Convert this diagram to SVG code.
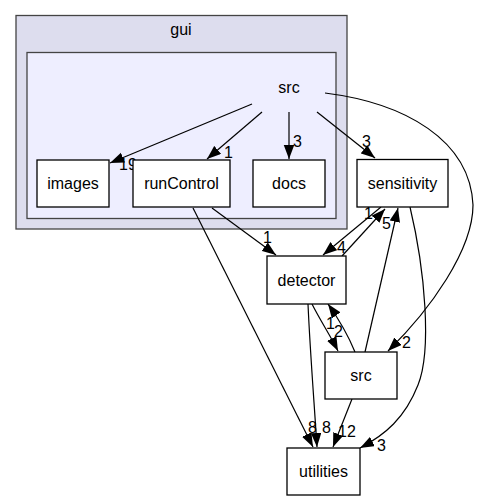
<svg xmlns="http://www.w3.org/2000/svg" width="479" height="501" viewBox="0 0 479 501">
<style>
text{font-family:"Liberation Sans",Arial,sans-serif;font-size:16px;fill:#000}
.n{text-anchor:middle}
.box{fill:#fff;stroke:#000;stroke-width:1.3}
.e{fill:none;stroke:#000;stroke-width:1.2;marker-end:url(#ah)}
</style>
<defs>
<marker id="ah" markerUnits="userSpaceOnUse" markerWidth="15" markerHeight="11" refX="14" refY="5.25" orient="auto">
<path d="M0,0 L14,5.25 L0,10.5 z" fill="#000"/>
</marker>
</defs>
<g id="cluster-gui">
<rect x="16" y="15.5" width="331" height="213.5" fill="#ddddee" stroke="#444" stroke-width="1.3"/>
<text class="n" x="181" y="35">gui</text>
</g>
<g id="cluster-gui-src">
<rect x="27" y="52.5" width="309" height="166" fill="#eeeeff" stroke="#444" stroke-width="1.3"/>
<text class="n" x="289" y="93">src</text>
</g>
<g id="connectors">
<path class="e" d="M252,104 L110,163"/>
<text x="119" y="170">19</text>
<path class="e" d="M262,112 L207,159"/>
<text x="224" y="158">1</text>
<path class="e" d="M289,112 L289,159"/>
<text x="293" y="147">3</text>
<path class="e" d="M317,112 L375,158"/>
<text x="362" y="147">3</text>
<path class="e" d="M325,93 C405,103 470,140 473,205 C473,250 430,310 388,351"/>
<text x="402" y="348">2</text>
<path class="e" d="M212,208 L276,255"/>
<text x="263" y="243">1</text>
<path class="e" d="M193,208 L313,447"/>
<text x="308" y="433">8</text>
<path class="e" d="M381,207 L323,255"/>
<text x="337" y="253">4</text>
<path class="e" d="M342,256 L385,209"/>
<text x="364" y="219">1</text>
<path class="e" d="M365,352 L398,208"/>
<text x="382" y="229">5</text>
<path class="e" d="M312,304 C320,320 330,335 338,351"/>
<text x="334" y="337">2</text>
<path class="e" d="M355,352 C348,335 338,318 328,304"/>
<text x="326" y="329">1</text>
<path class="e" d="M308,304 C310,350 314,400 317,447"/>
<text x="322" y="433">8</text>
<path class="e" d="M352,399 L333,447"/>
<text x="338" y="437">12</text>
<path class="e" d="M410,207 C425,270 432,350 418,385 C405,418 385,435 360,448"/>
<text x="377" y="451">3</text>
</g>
<g id="node-images">
<rect class="box" x="37" y="160" width="72" height="47"/>
<text class="n" x="73" y="189">images</text>
</g>
<g id="node-runControl">
<rect class="box" x="133" y="160" width="97" height="47"/>
<text class="n" x="181.5" y="189">runControl</text>
</g>
<g id="node-docs">
<rect class="box" x="253" y="160" width="72" height="47"/>
<text class="n" x="289" y="189">docs</text>
</g>
<g id="node-sensitivity">
<rect class="box" x="357" y="159.5" width="91" height="47.5"/>
<text class="n" x="402.5" y="189">sensitivity</text>
</g>
<g id="node-detector">
<rect class="box" x="267" y="256" width="79" height="48"/>
<text class="n" x="306.5" y="285.5">detector</text>
</g>
<g id="node-src">
<rect class="box" x="325" y="352" width="72" height="47"/>
<text class="n" x="361" y="381">src</text>
</g>
<g id="node-utilities">
<rect class="box" x="287" y="448" width="73" height="47"/>
<text class="n" x="323.5" y="477">utilities</text>
</g>
</svg>
